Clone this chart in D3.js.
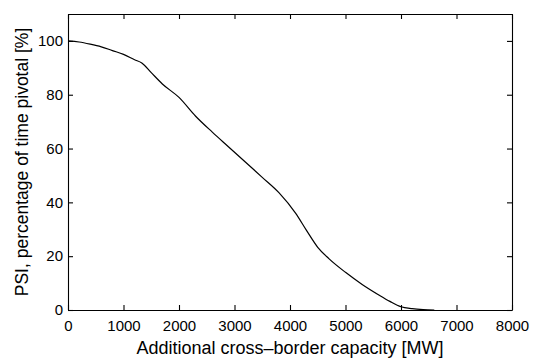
<!DOCTYPE html>
<html>
<head>
<meta charset="utf-8">
<script src="https://cdn.jsdelivr.net/npm/d3@7"></script>
<style>
body { margin: 0; background: #fff; }
text { font-family: "Liberation Sans", Arial, sans-serif; fill: #000; }
</style>
</head>
<body>
<div id="chart"></div>
<script>
let capacity = [0, 200, 400, 600, 800, 1000, 1200, 1330, 1500, 1700, 2000, 2300, 2600, 2900, 3200, 3500, 3800, 4100, 4300, 4500, 4700, 5000, 5300, 5600, 5800, 6000, 6200, 6400, 6600];
let psi = [100, 99.6, 98.8, 97.8, 96.4, 95, 93, 91.8, 88.2, 84, 79, 72, 66.1, 60.5, 54.9, 49.3, 43.6, 36, 29.5, 23.3, 19.1, 14, 9.5, 5.6, 3.2, 1.2, 0.5, 0.15, 0];
let xTicks = [0, 1000, 2000, 3000, 4000, 5000, 6000, 7000, 8000];
let yTicks = [0, 20, 40, 60, 80, 100];

let margin = {top: 14, right: 22, bottom: 50, left: 68},
    width = 534 - margin.left - margin.right,
    height = 360 - margin.top - margin.bottom;

let svg = d3.select("#chart").append("svg")
    .attr("width", 534)
    .attr("height", 360)
    .append("g")
    .attr("transform", "translate(" + margin.left + "," + margin.top + ")");

let x = d3.scaleLinear().domain([0, 8000]).range([0, width]);
let y = d3.scaleLinear().domain([0, 110]).range([height, 0]);

let tk = 5;
let fmt = d3.format("d");

svg.append("g")
    .attr("transform", "translate(0," + height + ")")
    .call(d3.axisBottom(x).tickValues(xTicks).tickFormat(fmt).tickSizeInner(-tk).tickSizeOuter(0).tickPadding(10))
    .call(g => g.selectAll("text").style("font-size", "15px"));

svg.append("g")
    .call(d3.axisLeft(y).tickValues(yTicks).tickFormat(fmt).tickSizeInner(-tk).tickSizeOuter(0).tickPadding(5))
    .call(g => g.selectAll("text").style("font-size", "15px"));

// mirrored ticks top and right
svg.append("g")
    .call(d3.axisTop(x).tickValues(xTicks).tickSizeInner(-tk).tickSizeOuter(0).tickFormat(""));
svg.append("g")
    .attr("transform", "translate(" + width + ",0)")
    .call(d3.axisRight(y).tickValues(yTicks).tickSizeInner(-tk).tickSizeOuter(0).tickFormat(""));

svg.selectAll(".domain, .tick line").attr("stroke", "#000").attr("stroke-width", 1.1);

svg.append("path")
    .datum(capacity.map((c, i) => [c, psi[i]]))
    .attr("fill", "none")
    .attr("stroke", "#000")
    .attr("stroke-width", 1.2)
    .attr("d", d3.line().x(d => x(d[0])).y(d => y(d[1])).curve(d3.curveMonotoneX));

svg.append("text")
    .attr("x", width / 2)
    .attr("y", height + 44)
    .attr("text-anchor", "middle")
    .style("font-size", "18px")
    .text("Additional cross\u2013border capacity [MW]");

svg.append("text")
    .attr("transform", "rotate(-90)")
    .attr("x", -height / 2)
    .attr("y", -40)
    .attr("text-anchor", "middle")
    .style("font-size", "17.5px")
    .text("PSI, percentage of time pivotal [%]");
</script>
</body>
</html>
